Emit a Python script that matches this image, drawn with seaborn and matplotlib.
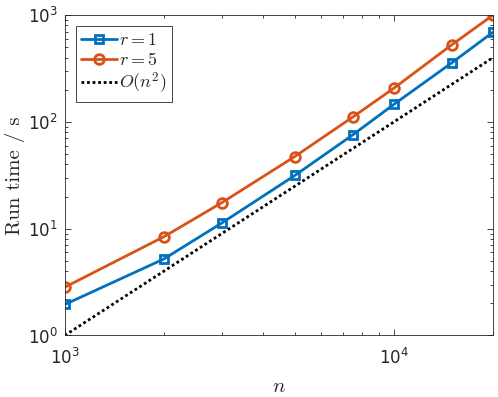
#!/usr/bin/env python3

import pandas as pd
import seaborn as sns
from matplotlib import pyplot as plt
from matplotlib.ticker import LogLocator, NullFormatter

# problem sizes and measured run times (s)
n_vals = [1000, 2000, 3000, 5000, 7500, 10000, 15000, 20000]
time_r1 = [1.95, 5.2, 11.3, 31.5, 75.6, 146, 358, 692]
time_r5 = [2.83, 8.4, 17.5, 47.4, 111, 207, 528, 1000]
ref_n2 = [1, 4, 9, 25, 56.25, 100, 225, 400]

sns.set_style('ticks')
plt.rcParams['mathtext.fontset'] = 'cm'
plt.rcParams['font.family'] = ['DejaVu Sans']
plt.rcParams['xtick.direction'] = 'in'
plt.rcParams['ytick.direction'] = 'in'

df = pd.DataFrame({'n': n_vals, 'r1': time_r1, 'r5': time_r5, 'ref': ref_n2})

f, ax = plt.subplots(figsize=(4.98, 3.97), dpi=100)

sns.lineplot(data=df, x='n', y='r1', ax=ax, color='#0072BD', lw=2,
             marker='s', markersize=6, markerfacecolor='none',
             markeredgecolor='#0072BD', markeredgewidth=2, label='$r = 1$')
sns.lineplot(data=df, x='n', y='r5', ax=ax, color='#D95319', lw=2,
             marker='o', markersize=7, markerfacecolor='none',
             markeredgecolor='#D95319', markeredgewidth=2, label='$r = 5$')
sns.lineplot(data=df, x='n', y='ref', ax=ax, color='black', lw=2,
             linestyle=(0, (1, 1)), label='$O(n^2)$')

ax.set_xscale('log')
ax.set_yscale('log')
ax.set_xlim(1000, 20000)
ax.set_ylim(1, 1000)
ax.yaxis.set_major_locator(LogLocator(base=10, numticks=10))
ax.yaxis.set_minor_locator(LogLocator(base=10, subs=range(2, 10), numticks=10))
ax.yaxis.set_minor_formatter(NullFormatter())
ax.xaxis.set_minor_formatter(NullFormatter())

ax.set_xlabel('$n$', fontsize=15, labelpad=6)
ax.set_ylabel('Run time / s', fontsize=15, family='cmr10')
ax.yaxis.set_label_coords(-0.093, 0.5)

for s in ax.spines.values():
    s.set_visible(True)
    s.set_color('#262626')
    s.set_linewidth(0.6)
ax.tick_params(which='both', top=True, right=True, color='#262626',
               labelsize=12, labelcolor='#262626')
ax.tick_params(which='major', length=4, width=0.6)
ax.tick_params(which='minor', length=2.5, width=0.6)
ax.tick_params(axis='x', which='major', pad=9)
ax.tick_params(axis='y', which='major', pad=5)

leg = ax.legend(loc='upper left', fontsize=13, handlelength=2.0,
                handletextpad=0.1, borderpad=0.3, labelspacing=0.1,
                fancybox=False, edgecolor='#262626', framealpha=1,
                borderaxespad=0.6)
leg.get_frame().set_linewidth(0.6)

f.subplots_adjust(left=0.13, right=0.99, top=0.962, bottom=0.155)
f.savefig('out.png', dpi=100)
